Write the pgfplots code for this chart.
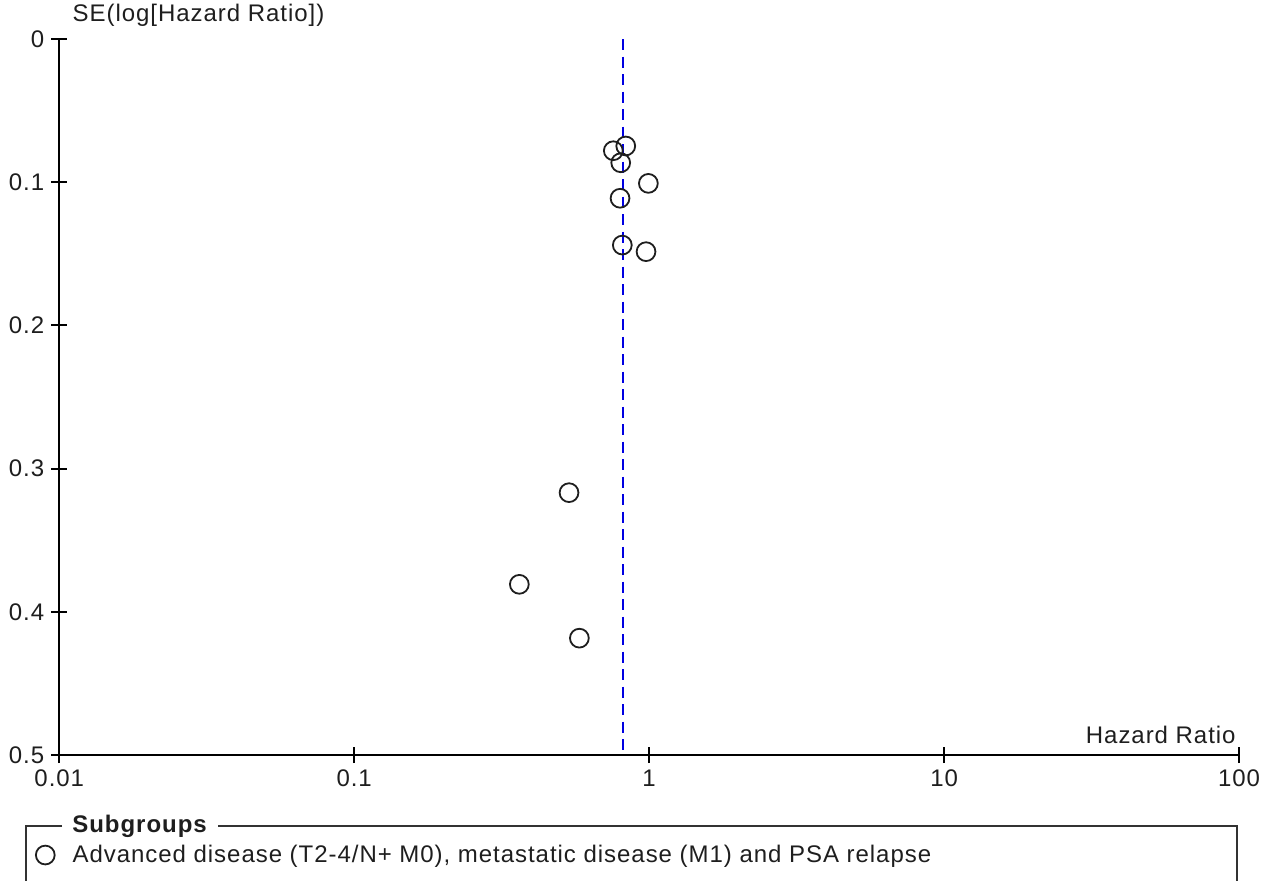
\documentclass[border=0pt]{standalone}
\usepackage{fontspec}
\setmainfont{Liberation Sans}[LetterSpace=4]
\usepackage{pgfplots}
\usepackage{pgfplotstable}
\pgfplotsset{compat=1.18}

\definecolor{refblue}{RGB}{0,0,225}
\definecolor{ink}{RGB}{30,30,30}
\definecolor{frame}{RGB}{50,50,50}

% hazard ratio and standard error of log(HR) per study
\pgfplotstableread{
hr    se
0.756 0.0780
0.833 0.0747
0.801 0.0864
0.994 0.1008
0.797 0.1112
0.811 0.1439
0.976 0.1485
0.535 0.3168
0.363 0.3808
0.580 0.4184
}\studies

\begin{document}
\begin{tikzpicture}[font=\fontsize{12}{14}\selectfont]
\useasboundingbox (0,0) rectangle (635.5pt,440pt);
\begin{axis}[
  at={(29.65pt,62.5pt)}, anchor=south west,
  scale only axis, width=589.85pt, height=358pt,
  xmode=log, xmin=0.01, xmax=100,
  ymin=0, ymax=0.5, y dir=reverse,
  axis x line*=bottom, axis y line*=left,
  axis line style={-, line width=1pt, black},
  xtick={0.01,0.1,1,10,100}, xticklabels={0.01,0.1,1,10,100},
  ytick={0,0.1,0.2,0.3,0.4,0.5}, yticklabels={0,0.1,0.2,0.3,0.4,0.5},
  xminorticks=false, yminorticks=false,
  tick align=center, major tick length=8pt,
  tick style={line width=1pt, black},
  ticklabel style={font=\fontsize{12}{14}\selectfont, text=ink},
  /pgf/number format/assume math mode=true,
  xlabel={Hazard Ratio},
  xlabel style={at={(axis description cs:1,0)}, anchor=base east, xshift=-1.5pt, yshift=6pt, inner sep=0pt, text=ink},
  ylabel={SE(log[Hazard Ratio])},
  ylabel style={at={(axis description cs:0,1)}, rotate=-90, anchor=base west, xshift=6.5pt, yshift=9pt, inner sep=0pt, text=ink},
  clip=false,
  legend style={at={(axis description cs:-0.0206,-0.1397)}, anchor=west,
    draw=none, fill=none, inner sep=0pt, outer sep=0pt,
    font=\fontsize{12}{14}\selectfont, text=ink,
    legend cell align=left},
  legend image code/.code={\draw[ink, line width=0.9pt] (0pt,0pt) circle (4.7pt);},
]
\addplot[refblue, line width=1pt, dash pattern=on 5.5pt off 3.25pt, forget plot]
  coordinates {(0.818,0) (0.818,0.5)};
\addplot[only marks, mark=o, mark size=4.7pt, mark options={ink, line width=0.9pt}]
  table[x=hr, y=se] {\studies};
\addlegendentry{\hspace*{6.5pt}Advanced disease (T2-4/N+ M0), metastatic disease (M1) and PSA relapse}
\end{axis}
% frame of the subgroup legend
\draw[frame, line width=1pt] (31pt,27pt) -- (12.75pt,27pt) -- (12.75pt,-5pt);
\draw[frame, line width=1pt] (109pt,27pt) -- (618.3pt,27pt) -- (618.3pt,-5pt);
\node[anchor=base west, inner sep=0pt, text=ink] at (36pt,24pt) {\bfseries Subgroups};
\end{tikzpicture}
\end{document}
